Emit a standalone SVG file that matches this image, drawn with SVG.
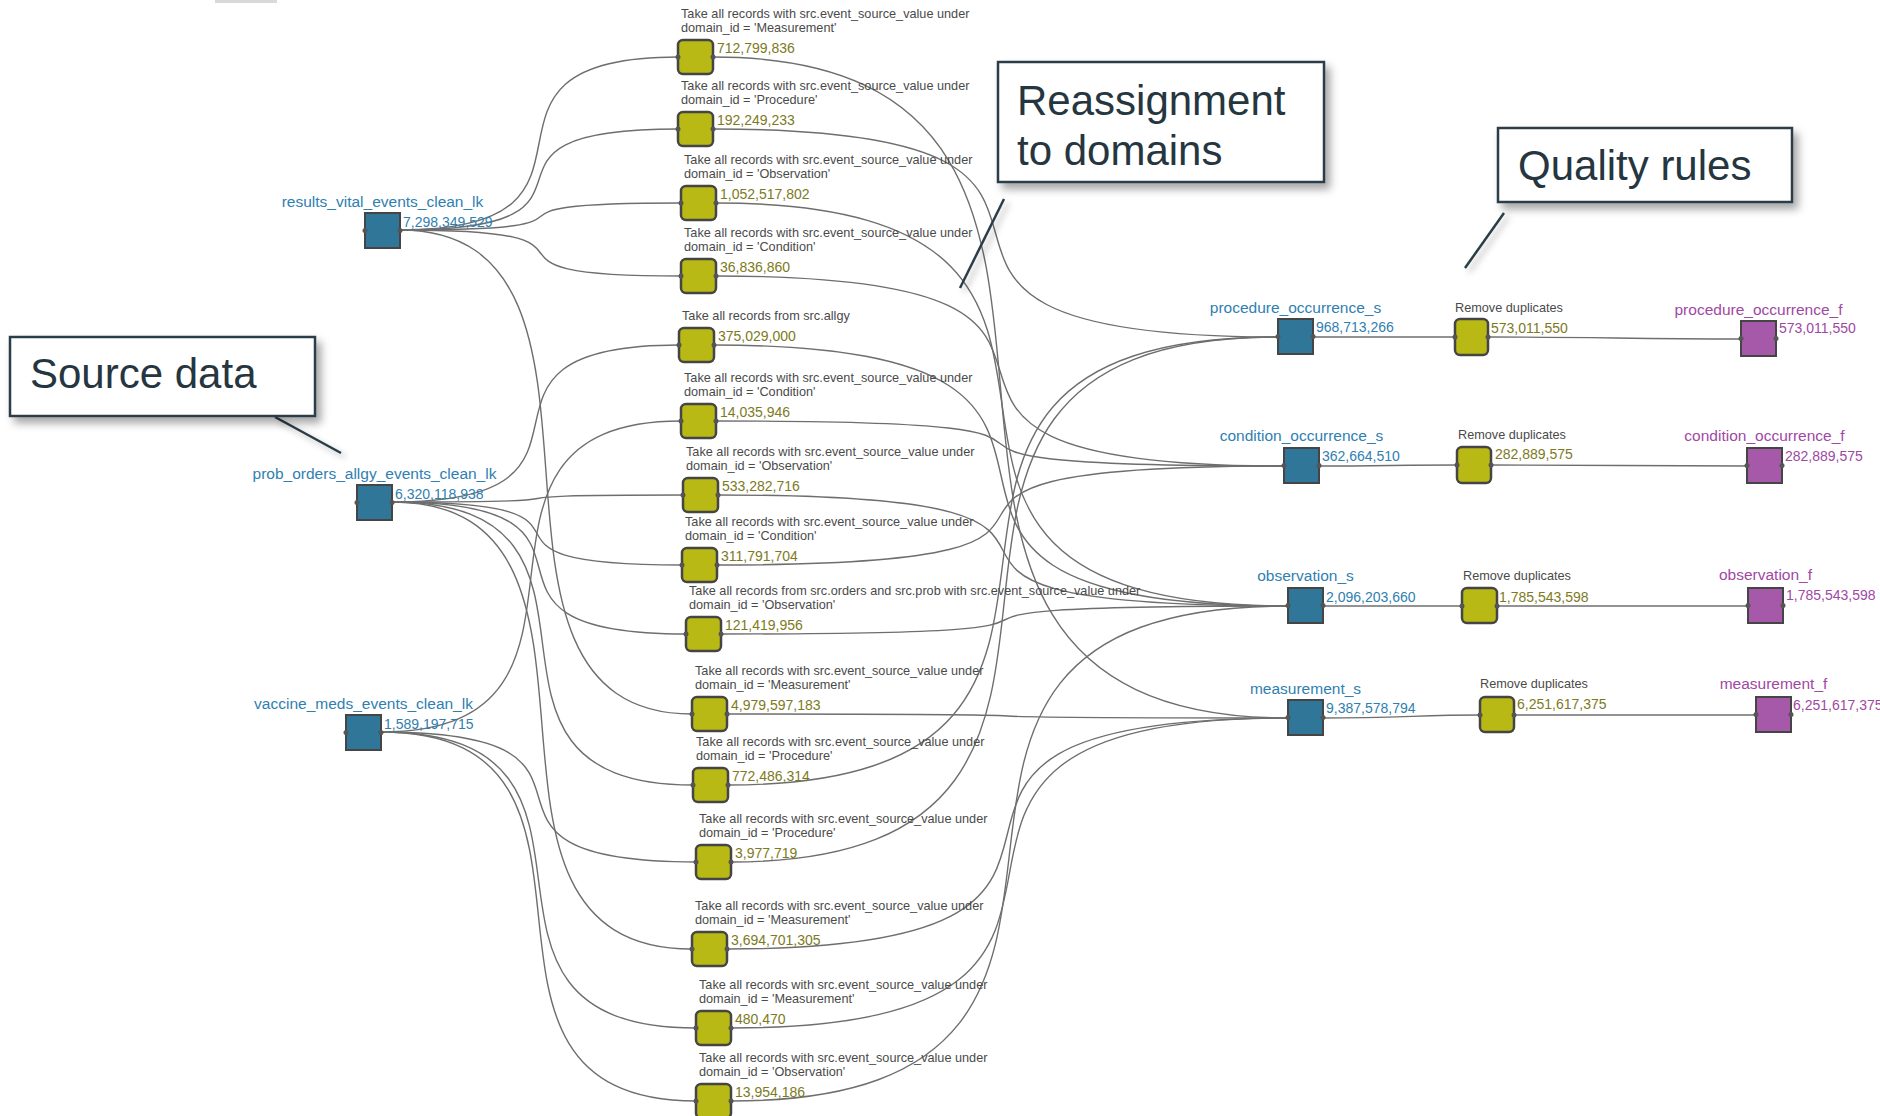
<svg xmlns="http://www.w3.org/2000/svg" width="1880" height="1116" viewBox="0 0 1880 1116">
<defs>
<filter id="sh" x="-10%" y="-15%" width="130%" height="150%"><feDropShadow dx="5" dy="6" stdDeviation="4" flood-color="#000" flood-opacity="0.35"/></filter>
<filter id="shl" x="-50%" y="-20%" width="200%" height="150%"><feDropShadow dx="4" dy="4" stdDeviation="3" flood-color="#000" flood-opacity="0.3"/></filter>
</defs>
<style>
text{font-family:"Liberation Sans",Arial,sans-serif}
.lb{font-size:15.5px;fill:#2f80b0;text-anchor:middle}
.cb{font-size:14px;fill:#2f80b0}
.lp{font-size:15.5px;fill:#a048a3;text-anchor:middle}
.cp{font-size:14px;fill:#a048a3}
.tt{font-size:12.7px;fill:#4a4a4a}
.cy{font-size:14px;fill:#7d7a1c}
.nb{fill:#2f7699;stroke:#454545;stroke-width:2}
.np{fill:#a658a9;stroke:#454545;stroke-width:2}
.ny{fill:#b9b915;stroke:#454545;stroke-width:2.5}
.pt{fill:#555}
.e{fill:none;stroke:#6e6e6e;stroke-width:1.4}
.ab{fill:#fff;stroke:#2c3e48;stroke-width:2.5}
.at{font-size:42px;fill:#263640}
.cl{stroke:#2c3e48;stroke-width:2.5}
</style>
<rect x="215" y="0" width="62" height="3" fill="#d9d9d9"/>
<g id="connectors">
<path class="e" d="M400 230 C645 230,433 57,678 57"/>
<path class="e" d="M400 230 C645 230,433 129,678 129"/>
<path class="e" d="M400 230 C647 230,434 203,681 203"/>
<path class="e" d="M400 230 C647 230,434 276,681 276"/>
<path class="e" d="M400 230 C657 230,435 714,692 714"/>
<path class="e" d="M392 502 C645 502,426 345,679 345"/>
<path class="e" d="M392 502 C648 502,427 495,683 495"/>
<path class="e" d="M392 502 C647 502,427 565,682 565"/>
<path class="e" d="M392 502 C651 502,427 634,686 634"/>
<path class="e" d="M392 502 C657 502,428 785,693 785"/>
<path class="e" d="M392 502 C656 502,428 949,692 949"/>
<path class="e" d="M381 732 C645 732,417 421,681 421"/>
<path class="e" d="M381 732 C658 732,419 862,696 862"/>
<path class="e" d="M381 732 C658 732,419 1028,696 1028"/>
<path class="e" d="M381 732 C658 732,419 1101,696 1101"/>
<path class="e" d="M713 129 C1222 129,769 337,1278 337"/>
<path class="e" d="M728 785 C1223 785,783 337,1278 337"/>
<path class="e" d="M731 862 C1223 862,786 337,1278 337"/>
<path class="e" d="M716 276 C1227 276,773 466,1284 466"/>
<path class="e" d="M716 421 C1227 421,773 466,1284 466"/>
<path class="e" d="M717 565 C1227 565,774 466,1284 466"/>
<path class="e" d="M716 203 C1231 203,773 606,1288 606"/>
<path class="e" d="M714 345 C1231 345,771 606,1288 606"/>
<path class="e" d="M718 495 C1231 495,775 606,1288 606"/>
<path class="e" d="M721 634 C1231 634,778 606,1288 606"/>
<path class="e" d="M731 1101 C1232 1101,787 606,1288 606"/>
<path class="e" d="M713 57 C1231 57,770 718,1288 718"/>
<path class="e" d="M727 714 C1232 714,783 718,1288 718"/>
<path class="e" d="M727 949 C1232 949,783 718,1288 718"/>
<path class="e" d="M731 1028 C1232 1028,787 718,1288 718"/>
<path class="e" d="M1313 337 L1455 337"/>
<path class="e" d="M1488 337 C1600 337,1630 339,1741 339"/>
<path class="e" d="M1319 466 C1380 466,1400 465,1457 465"/>
<path class="e" d="M1491 465 C1600 465,1640 466,1747 466"/>
<path class="e" d="M1323 606 L1462 606"/>
<path class="e" d="M1497 606 L1748 606"/>
<path class="e" d="M1323 718 C1400 718,1420 715,1480 715"/>
<path class="e" d="M1514 715 L1756 715"/>
</g>
<g id="src_results_vital" transform="translate(365,213)"><text class="lb" x="17.5" y="-6">results_vital_events_clean_lk</text><rect class="nb" width="35" height="35"/><circle class="pt" cx="0" cy="17.5" r="2.5"/><circle class="pt" cx="35" cy="17.5" r="2.5"/><text class="cb" x="38" y="14">7,298,349,529</text></g>
<g id="src_prob_orders" transform="translate(357,485)"><text class="lb" x="17.5" y="-6">prob_orders_allgy_events_clean_lk</text><rect class="nb" width="35" height="35"/><circle class="pt" cx="0" cy="17.5" r="2.5"/><circle class="pt" cx="35" cy="17.5" r="2.5"/><text class="cb" x="38" y="14">6,320,118,938</text></g>
<g id="src_vaccine_meds" transform="translate(346,715)"><text class="lb" x="17.5" y="-6">vaccine_meds_events_clean_lk</text><rect class="nb" width="35" height="35"/><circle class="pt" cx="0" cy="17.5" r="2.5"/><circle class="pt" cx="35" cy="17.5" r="2.5"/><text class="cb" x="38" y="14">1,589,197,715</text></g>
<g id="y1" transform="translate(678,40)"><text class="tt" x="3" y="-22">Take all records with src.event_source_value under</text><text class="tt" x="3" y="-8">domain_id = 'Measurement'</text><rect class="ny" width="35" height="34" rx="5"/><circle class="pt" cx="0" cy="17" r="2.5"/><circle class="pt" cx="35" cy="17" r="2.5"/><text class="cy" x="39" y="13">712,799,836</text></g>
<g id="y2" transform="translate(678,112)"><text class="tt" x="3" y="-22">Take all records with src.event_source_value under</text><text class="tt" x="3" y="-8">domain_id = 'Procedure'</text><rect class="ny" width="35" height="34" rx="5"/><circle class="pt" cx="0" cy="17" r="2.5"/><circle class="pt" cx="35" cy="17" r="2.5"/><text class="cy" x="39" y="13">192,249,233</text></g>
<g id="y3" transform="translate(681,186)"><text class="tt" x="3" y="-22">Take all records with src.event_source_value under</text><text class="tt" x="3" y="-8">domain_id = 'Observation'</text><rect class="ny" width="35" height="34" rx="5"/><circle class="pt" cx="0" cy="17" r="2.5"/><circle class="pt" cx="35" cy="17" r="2.5"/><text class="cy" x="39" y="13">1,052,517,802</text></g>
<g id="y4" transform="translate(681,259)"><text class="tt" x="3" y="-22">Take all records with src.event_source_value under</text><text class="tt" x="3" y="-8">domain_id = 'Condition'</text><rect class="ny" width="35" height="34" rx="5"/><circle class="pt" cx="0" cy="17" r="2.5"/><circle class="pt" cx="35" cy="17" r="2.5"/><text class="cy" x="39" y="13">36,836,860</text></g>
<g id="y5" transform="translate(679,328)"><text class="tt" x="3" y="-8">Take all records from src.allgy</text><rect class="ny" width="35" height="34" rx="5"/><circle class="pt" cx="0" cy="17" r="2.5"/><circle class="pt" cx="35" cy="17" r="2.5"/><text class="cy" x="39" y="13">375,029,000</text></g>
<g id="y6" transform="translate(681,404)"><text class="tt" x="3" y="-22">Take all records with src.event_source_value under</text><text class="tt" x="3" y="-8">domain_id = 'Condition'</text><rect class="ny" width="35" height="34" rx="5"/><circle class="pt" cx="0" cy="17" r="2.5"/><circle class="pt" cx="35" cy="17" r="2.5"/><text class="cy" x="39" y="13">14,035,946</text></g>
<g id="y7" transform="translate(683,478)"><text class="tt" x="3" y="-22">Take all records with src.event_source_value under</text><text class="tt" x="3" y="-8">domain_id = 'Observation'</text><rect class="ny" width="35" height="34" rx="5"/><circle class="pt" cx="0" cy="17" r="2.5"/><circle class="pt" cx="35" cy="17" r="2.5"/><text class="cy" x="39" y="13">533,282,716</text></g>
<g id="y8" transform="translate(682,548)"><text class="tt" x="3" y="-22">Take all records with src.event_source_value under</text><text class="tt" x="3" y="-8">domain_id = 'Condition'</text><rect class="ny" width="35" height="34" rx="5"/><circle class="pt" cx="0" cy="17" r="2.5"/><circle class="pt" cx="35" cy="17" r="2.5"/><text class="cy" x="39" y="13">311,791,704</text></g>
<g id="y9" transform="translate(686,617)"><text class="tt" x="3" y="-22">Take all records from src.orders and src.prob with src.event_source_value under</text><text class="tt" x="3" y="-8">domain_id = 'Observation'</text><rect class="ny" width="35" height="34" rx="5"/><circle class="pt" cx="0" cy="17" r="2.5"/><circle class="pt" cx="35" cy="17" r="2.5"/><text class="cy" x="39" y="13">121,419,956</text></g>
<g id="y10" transform="translate(692,697)"><text class="tt" x="3" y="-22">Take all records with src.event_source_value under</text><text class="tt" x="3" y="-8">domain_id = 'Measurement'</text><rect class="ny" width="35" height="34" rx="5"/><circle class="pt" cx="0" cy="17" r="2.5"/><circle class="pt" cx="35" cy="17" r="2.5"/><text class="cy" x="39" y="13">4,979,597,183</text></g>
<g id="y11" transform="translate(693,768)"><text class="tt" x="3" y="-22">Take all records with src.event_source_value under</text><text class="tt" x="3" y="-8">domain_id = 'Procedure'</text><rect class="ny" width="35" height="34" rx="5"/><circle class="pt" cx="0" cy="17" r="2.5"/><circle class="pt" cx="35" cy="17" r="2.5"/><text class="cy" x="39" y="13">772,486,314</text></g>
<g id="y12" transform="translate(696,845)"><text class="tt" x="3" y="-22">Take all records with src.event_source_value under</text><text class="tt" x="3" y="-8">domain_id = 'Procedure'</text><rect class="ny" width="35" height="34" rx="5"/><circle class="pt" cx="0" cy="17" r="2.5"/><circle class="pt" cx="35" cy="17" r="2.5"/><text class="cy" x="39" y="13">3,977,719</text></g>
<g id="y13" transform="translate(692,932)"><text class="tt" x="3" y="-22">Take all records with src.event_source_value under</text><text class="tt" x="3" y="-8">domain_id = 'Measurement'</text><rect class="ny" width="35" height="34" rx="5"/><circle class="pt" cx="0" cy="17" r="2.5"/><circle class="pt" cx="35" cy="17" r="2.5"/><text class="cy" x="39" y="13">3,694,701,305</text></g>
<g id="y14" transform="translate(696,1011)"><text class="tt" x="3" y="-22">Take all records with src.event_source_value under</text><text class="tt" x="3" y="-8">domain_id = 'Measurement'</text><rect class="ny" width="35" height="34" rx="5"/><circle class="pt" cx="0" cy="17" r="2.5"/><circle class="pt" cx="35" cy="17" r="2.5"/><text class="cy" x="39" y="13">480,470</text></g>
<g id="y15" transform="translate(696,1084)"><text class="tt" x="3" y="-22">Take all records with src.event_source_value under</text><text class="tt" x="3" y="-8">domain_id = 'Observation'</text><rect class="ny" width="35" height="34" rx="5"/><circle class="pt" cx="0" cy="17" r="2.5"/><circle class="pt" cx="35" cy="17" r="2.5"/><text class="cy" x="39" y="13">13,954,186</text></g>
<g id="procedure_occurrence_s" transform="translate(1278,319)"><text class="lb" x="17.5" y="-6">procedure_occurrence_s</text><rect class="nb" width="35" height="35"/><circle class="pt" cx="0" cy="17.5" r="2.5"/><circle class="pt" cx="35" cy="17.5" r="2.5"/><text class="cb" x="38" y="13">968,713,266</text></g>
<g id="condition_occurrence_s" transform="translate(1284,448)"><text class="lb" x="17.5" y="-7">condition_occurrence_s</text><rect class="nb" width="35" height="35"/><circle class="pt" cx="0" cy="17.5" r="2.5"/><circle class="pt" cx="35" cy="17.5" r="2.5"/><text class="cb" x="38" y="13">362,664,510</text></g>
<g id="observation_s" transform="translate(1288,588)"><text class="lb" x="17.5" y="-7">observation_s</text><rect class="nb" width="35" height="35"/><circle class="pt" cx="0" cy="17.5" r="2.5"/><circle class="pt" cx="35" cy="17.5" r="2.5"/><text class="cb" x="38" y="14">2,096,203,660</text></g>
<g id="measurement_s" transform="translate(1288,700)"><text class="lb" x="17.5" y="-6">measurement_s</text><rect class="nb" width="35" height="35"/><circle class="pt" cx="0" cy="17.5" r="2.5"/><circle class="pt" cx="35" cy="17.5" r="2.5"/><text class="cb" x="38" y="13">9,387,578,794</text></g>
<g id="rd_procedure" transform="translate(1455,319)"><text class="tt" x="0" y="-7">Remove duplicates</text><rect class="ny" width="33" height="36" rx="5"/><circle class="pt" cx="0" cy="18" r="2.5"/><circle class="pt" cx="33" cy="18" r="2.5"/><text class="cy" x="36" y="14">573,011,550</text></g>
<g id="rd_condition" transform="translate(1457,447)"><text class="tt" x="1" y="-8">Remove duplicates</text><rect class="ny" width="34" height="36" rx="5"/><circle class="pt" cx="0" cy="18" r="2.5"/><circle class="pt" cx="34" cy="18" r="2.5"/><text class="cy" x="38" y="12">282,889,575</text></g>
<g id="rd_observation" transform="translate(1462,588)"><text class="tt" x="1" y="-8">Remove duplicates</text><rect class="ny" width="35" height="35" rx="5"/><circle class="pt" cx="0" cy="18" r="2.5"/><circle class="pt" cx="35" cy="18" r="2.5"/><text class="cy" x="37" y="14">1,785,543,598</text></g>
<g id="rd_measurement" transform="translate(1480,697)"><text class="tt" x="0" y="-9">Remove duplicates</text><rect class="ny" width="34" height="35" rx="5"/><circle class="pt" cx="0" cy="18" r="2.5"/><circle class="pt" cx="34" cy="18" r="2.5"/><text class="cy" x="37" y="12">6,251,617,375</text></g>
<g id="procedure_occurrence_f" transform="translate(1741,321)"><text class="lp" x="17.5" y="-6">procedure_occurrence_f</text><rect class="np" width="35" height="35"/><circle class="pt" cx="0" cy="17.5" r="2.5"/><circle class="pt" cx="35" cy="17.5" r="2.5"/><text class="cp" x="38" y="12">573,011,550</text></g>
<g id="condition_occurrence_f" transform="translate(1747,448)"><text class="lp" x="17.5" y="-7">condition_occurrence_f</text><rect class="np" width="35" height="35"/><circle class="pt" cx="0" cy="17.5" r="2.5"/><circle class="pt" cx="35" cy="17.5" r="2.5"/><text class="cp" x="38" y="13">282,889,575</text></g>
<g id="observation_f" transform="translate(1748,588)"><text class="lp" x="17.5" y="-8">observation_f</text><rect class="np" width="35" height="35"/><circle class="pt" cx="0" cy="17.5" r="2.5"/><circle class="pt" cx="35" cy="17.5" r="2.5"/><text class="cp" x="38" y="12">1,785,543,598</text></g>
<g id="measurement_f" transform="translate(1756,697)"><text class="lp" x="17.5" y="-8">measurement_f</text><rect class="np" width="35" height="35"/><circle class="pt" cx="0" cy="17.5" r="2.5"/><circle class="pt" cx="35" cy="17.5" r="2.5"/><text class="cp" x="37" y="13">6,251,617,375</text></g>
<g id="note_source">
<line class="cl" x1="275" y1="417" x2="341" y2="453" filter="url(#shl)"/>
<rect class="ab" x="10" y="337" width="305" height="79" filter="url(#sh)"/>
<text class="at" x="30" y="388">Source data</text>
</g>
<g id="note_reassign">
<line class="cl" x1="1004" y1="199" x2="960" y2="288" filter="url(#shl)"/>
<rect class="ab" x="998" y="62" width="326" height="120" filter="url(#sh)"/>
<text class="at" x="1017" y="115">Reassignment</text>
<text class="at" x="1017" y="165">to domains</text>
</g>
<g id="note_quality">
<line class="cl" x1="1504" y1="213" x2="1465" y2="268" filter="url(#shl)"/>
<rect class="ab" x="1498" y="128" width="294" height="74" filter="url(#sh)"/>
<text class="at" x="1518" y="180">Quality rules</text>
</g>
</svg>
